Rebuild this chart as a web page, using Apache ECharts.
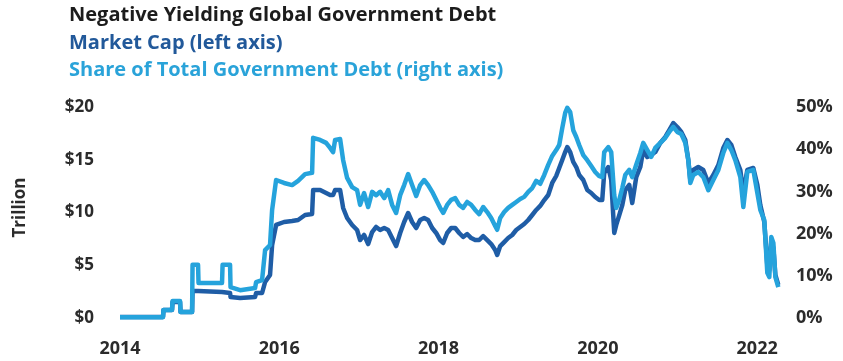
<!DOCTYPE html>
<html>
<head>
<meta charset="utf-8">
<script src="https://cdn.jsdelivr.net/npm/echarts@6/dist/echarts.min.js"></script>
<style>
  html, body { margin: 0; padding: 0; background: #ffffff; }
  #chart { width: 843px; height: 361px; }
</style>
</head>
<body>
<div id="chart"></div>
<script>
// Observation dates as decimal years
const dates = [
  2014.000, 2014.540, 2014.546, 2014.653, 2014.660, 2014.754, 2014.760, 2014.905, 2014.911, 2014.980,
  2014.986, 2015.281, 2015.288, 2015.382, 2015.388, 2015.508, 2015.696, 2015.709, 2015.784, 2015.822,
  2015.884, 2015.910, 2015.960, 2016.060, 2016.161, 2016.236, 2016.324, 2016.412, 2016.425, 2016.513,
  2016.588, 2016.638, 2016.676, 2016.701, 2016.764, 2016.802, 2016.852, 2016.915, 2016.977, 2017.015,
  2017.065, 2017.116, 2017.166, 2017.216, 2017.266, 2017.317, 2017.367, 2017.417, 2017.467, 2017.518,
  2017.568, 2017.618, 2017.668, 2017.719, 2017.769, 2017.819, 2017.869, 2017.920, 2017.970, 2018.020,
  2018.058, 2018.108, 2018.158, 2018.209, 2018.259, 2018.309, 2018.359, 2018.410, 2018.460, 2018.510,
  2018.560, 2018.611, 2018.661, 2018.711, 2018.736, 2018.774, 2018.824, 2018.874, 2018.925, 2018.975,
  2019.025, 2019.075, 2019.126, 2019.176, 2019.226, 2019.276, 2019.327, 2019.377, 2019.427, 2019.477,
  2019.515, 2019.553, 2019.590, 2019.616, 2019.653, 2019.691, 2019.729, 2019.766, 2019.817, 2019.867,
  2019.917, 2019.967, 2020.018, 2020.055, 2020.080, 2020.131, 2020.168, 2020.206, 2020.231, 2020.269,
  2020.307, 2020.344, 2020.394, 2020.432, 2020.482, 2020.533, 2020.570, 2020.621, 2020.671, 2020.721,
  2020.784, 2020.847, 2020.897, 2020.947, 2020.997, 2021.048, 2021.098, 2021.136, 2021.161, 2021.198,
  2021.261, 2021.324, 2021.387, 2021.450, 2021.513, 2021.575, 2021.626, 2021.676, 2021.726, 2021.789,
  2021.827, 2021.877, 2021.952, 2022.003, 2022.040, 2022.090, 2022.128, 2022.153, 2022.178, 2022.204,
  2022.229, 2022.266
];

// Market value of negative-yielding government debt, $ trillion (left axis)
const marketCap = [
  0.1, 0.1, 0.76, 0.76, 1.52, 1.52, 0.57, 0.57, 2.56, 2.56,
  2.56, 2.46, 2.37, 2.37, 1.99, 1.90, 1.99, 2.37, 2.37, 3.41,
  4.08, 6.92, 8.82, 9.10, 9.19, 9.29, 9.76, 9.86, 12.13, 12.13,
  11.85, 11.66, 11.66, 12.13, 12.13, 10.43, 9.48, 8.82, 8.34, 7.39,
  7.87, 7.01, 8.15, 8.63, 8.34, 8.53, 8.34, 7.58, 6.82, 8.06,
  9.10, 9.95, 9.10, 8.53, 9.29, 9.48, 9.29, 8.53, 8.06, 7.39,
  7.11, 8.06, 8.53, 8.53, 8.06, 7.68, 7.96, 7.58, 7.39, 7.39,
  7.77, 7.39, 7.01, 6.45, 5.97, 6.82, 7.20, 7.58, 7.87, 8.34,
  8.63, 8.91, 9.29, 9.76, 10.24, 10.62, 11.18, 11.66, 12.80, 13.46,
  14.22, 14.98, 15.73, 16.21, 15.73, 14.79, 14.31, 13.55, 13.08, 12.13,
  11.85, 11.47, 11.18, 11.18, 13.74, 14.31, 13.08, 8.06, 8.82, 9.76,
  10.71, 12.13, 12.61, 10.90, 13.36, 14.31, 15.92, 15.26, 15.45, 15.73,
  16.59, 17.16, 17.82, 18.48, 18.10, 17.63, 16.87, 14.98, 13.08, 14.03,
  14.31, 14.03, 12.80, 13.55, 14.50, 16.11, 16.87, 16.40, 15.26, 14.03,
  11.85, 14.03, 14.22, 12.61, 10.71, 9.10, 5.02, 4.55, 7.39, 6.64,
  4.08, 3.13
];

// Share of total government debt yielding below zero, % (right axis)
const shareOfDebt = [
  0.2, 0.2, 1.9, 1.9, 4.0, 4.0, 1.4, 1.4, 12.6, 12.6,
  8.3, 8.3, 12.6, 12.6, 7.3, 6.6, 7.1, 8.5, 9.0, 16.1,
  17.3, 25.6, 32.7, 32.0, 31.5, 32.5, 34.1, 34.4, 42.7, 42.2,
  41.5, 40.3, 39.3, 42.2, 42.4, 37.4, 33.2, 31.0, 30.3, 26.8,
  29.6, 26.3, 29.9, 29.1, 29.9, 28.4, 30.3, 26.8, 24.9, 29.1,
  31.5, 34.1, 31.5, 28.9, 31.5, 32.7, 31.5, 29.9, 28.0, 26.1,
  24.9, 26.8, 28.0, 28.4, 26.8, 26.1, 27.5, 26.8, 25.6, 24.6,
  26.3, 25.1, 23.7, 21.8, 20.9, 23.7, 25.1, 26.1, 26.8, 27.5,
  28.2, 28.7, 29.9, 30.8, 32.5, 31.8, 33.9, 36.3, 38.4, 39.8,
  41.0, 45.0, 48.6, 49.8, 48.8, 44.5, 42.9, 41.0, 38.6, 37.4,
  36.0, 34.6, 33.6, 33.4, 39.3, 40.5, 39.3, 29.1, 26.1, 28.0,
  30.8, 33.9, 35.1, 33.4, 36.3, 39.1, 41.5, 39.8, 38.2, 40.3,
  41.5, 42.7, 44.1, 45.3, 44.1, 43.6, 41.5, 37.4, 32.0, 33.9,
  34.6, 33.4, 30.3, 32.7, 35.1, 39.1, 41.5, 39.8, 37.4, 33.4,
  26.3, 34.6, 35.1, 29.6, 25.6, 23.2, 10.7, 9.7, 19.2, 17.8,
  9.7, 7.3
];

// Axis ticks
const yearTicks = [2014, 2016, 2018, 2020, 2022];
const capTicks = [0, 5, 10, 15, 20];
const shareTicks = [0, 10, 20, 30, 40, 50];

const FONT = 'Open Sans';
const DARK = '#1f5da6';
const LIGHT = '#25a3dc';
const INK = '#2b2b2b';

const chart = echarts.init(document.getElementById('chart'), null, { renderer: 'canvas' });

chart.setOption({
  animation: false,
  backgroundColor: '#ffffff',
  title: [
    { text: 'Negative Yielding Global Government Debt', left: 69, top: 5, padding: 0,
      textStyle: { fontFamily: FONT, fontWeight: 'bold', fontSize: 20, color: '#1c1c1c' } },
    { text: 'Market Cap (left axis)', left: 69, top: 33, padding: 0,
      textStyle: { fontFamily: FONT, fontWeight: 'bold', fontSize: 20, color: '#22599a' } },
    { text: 'Share of Total Government Debt (right axis)', left: 69, top: 60, padding: 0,
      textStyle: { fontFamily: FONT, fontWeight: 'bold', fontSize: 20, color: '#2aa3d9' } }
  ],
  grid: { left: 120, right: 58, top: 107, bottom: 43, containLabel: false },
  xAxis: {
    type: 'value',
    min: yearTicks[0],
    max: 2022.35,
    interval: 2,
    axisLine: { show: false },
    axisTick: { show: false },
    splitLine: { show: false },
    axisLabel: {
      margin: 22,
      fontFamily: FONT, fontWeight: 'bold', fontSize: 18, color: INK,
      formatter: v => (yearTicks.indexOf(v) >= 0 ? String(v) : '')
    }
  },
  yAxis: [
    {
      type: 'value',
      min: capTicks[0],
      max: capTicks[capTicks.length - 1],
      interval: 5,
      name: 'Trillion',
      nameLocation: 'middle',
      nameRotate: 90,
      nameGap: 91,
      nameTextStyle: { fontFamily: FONT, fontWeight: 'bold', fontSize: 17, color: INK, padding: [0, 0, 0, 10] },
      axisLine: { show: false },
      axisTick: { show: false },
      splitLine: { show: false },
      axisLabel: {
        margin: 26,
        fontFamily: FONT, fontWeight: 'bold', fontSize: 17, color: INK,
        formatter: v => '$' + v
      }
    },
    {
      type: 'value',
      min: shareTicks[0],
      max: shareTicks[shareTicks.length - 1],
      interval: 10,
      position: 'right',
      axisLine: { show: false },
      axisTick: { show: false },
      splitLine: { show: false },
      axisLabel: {
        margin: 11,
        fontFamily: FONT, fontWeight: 'bold', fontSize: 18, color: INK,
        formatter: v => v + '%'
      }
    }
  ],
  series: [
    {
      name: 'Market Cap',
      type: 'line',
      yAxisIndex: 0,
      showSymbol: false,
      z: 2,
      lineStyle: { color: DARK, width: 4.5, join: 'round' },
      data: dates.map((d, i) => [d, marketCap[i]])
    },
    {
      name: 'Share of Total Government Debt',
      type: 'line',
      yAxisIndex: 1,
      showSymbol: false,
      z: 3,
      lineStyle: { color: LIGHT, width: 4.5, join: 'round' },
      data: dates.map((d, i) => [d, shareOfDebt[i]])
    }
  ]
});
</script>
</body>
</html>
